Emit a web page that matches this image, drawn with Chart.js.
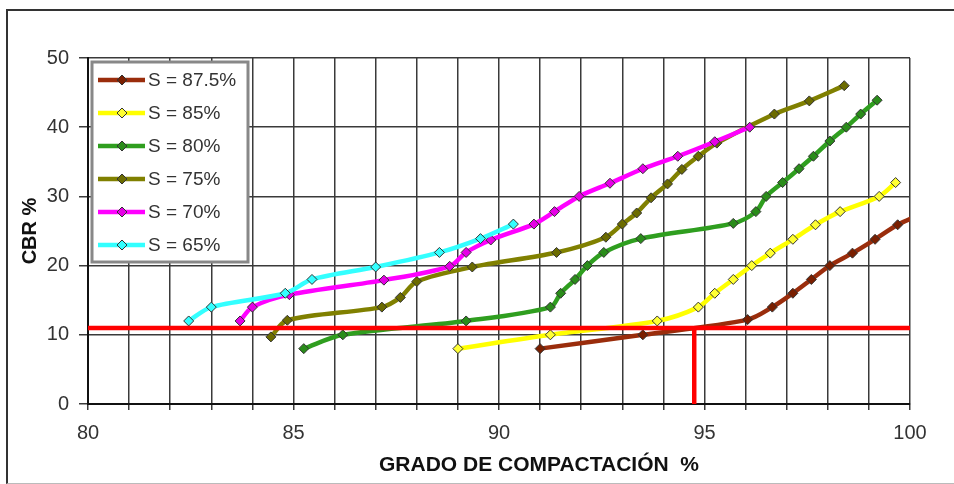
<!DOCTYPE html>
<html>
<head>
<meta charset="utf-8">
<script src="https://cdn.jsdelivr.net/npm/chart.js@4.4.1/dist/chart.umd.min.js"></script>
<style>
  html, body { margin: 0; padding: 0; background: #fff; overflow: hidden; }
  #wrap { position: relative; width: 954px; height: 484px; }
  #frame { position: absolute; left: 6px; top: 9px; width: 960px; height: 472px;
           border-left: 2px solid #333; border-top: 2px solid #333; border-bottom: 1px solid #bbb; }
  canvas { position: absolute; left: 0; top: 0; }
</style>
</head>
<body>
<div id="wrap">
  <div id="frame"></div>
  <canvas id="chart" width="954" height="484"></canvas>
</div>
<script>
// series names + colours
const seriesNames = ['S = 87.5%', 'S = 85%', 'S = 80%', 'S = 75%', 'S = 70%', 'S = 65%'];
const lineColors = ['#9a2d0c', '#ffff00', '#2f9e1f', '#808000', '#ff00ff', '#33ffff'];
const markColors = ['#7a1f00', '#ffff33', '#2a8c1a', '#6b6b00', '#e600e6', '#33ffff'];

// grado de compactacion (%) / CBR (%)
const s875x = [91.0, 93.5, 96.05, 96.65, 97.15, 97.6, 98.05, 98.6, 99.15, 99.7, 100.3];
const s875y = [8, 10, 12.2, 14, 16, 18, 20, 21.8, 23.8, 25.9, 27.5];
const s85x = [89.0, 91.25, 93.85, 94.85, 95.25, 95.7, 96.15, 96.6, 97.15, 97.7, 98.3, 99.25, 99.65];
const s85y = [8, 10, 12, 14, 16, 18, 20, 21.8, 23.8, 25.9, 27.8, 30, 32];
const s80x = [85.25, 86.2, 89.2, 91.25, 91.5, 91.85, 92.15, 92.55, 93.45, 95.7, 96.25, 96.5, 96.9, 97.3, 97.65, 98.05, 98.45, 98.8, 99.2];
const s80y = [8, 10, 12, 14, 16, 18, 20, 21.9, 23.9, 26.1, 27.8, 30, 32, 34, 35.8, 38, 40, 41.9, 43.9];
const s75x = [84.45, 84.85, 87.15, 87.6, 88.0, 89.35, 91.4, 92.6, 93.0, 93.35, 93.7, 94.1, 94.45, 94.85, 95.3, 96.7, 97.55, 98.4];
const s75y = [9.7, 12.1, 14, 15.4, 17.7, 19.8, 21.9, 24.1, 26, 27.6, 29.8, 31.8, 33.9, 35.8, 37.7, 41.9, 43.8, 46];
const s70x = [83.7, 84.0, 84.9, 87.2, 88.8, 89.2, 89.8, 90.85, 91.35, 91.95, 92.7, 93.5, 94.35, 95.25, 96.1];
const s70y = [12, 14, 15.8, 17.9, 19.9, 21.9, 23.7, 26, 27.8, 30, 31.9, 34, 35.8, 37.9, 40];
const s65x = [82.45, 83.0, 84.8, 85.45, 87.0, 88.55, 89.55, 90.35];
const s65y = [12, 14, 16, 18, 19.8, 21.9, 23.9, 26];

// red reference lines (CBR 11 -> 94.75 %)
const hLineX = [80, 100];
const hLineY = [11, 11];
const vLineX = [94.75, 94.75];
const vLineY = [0, 11];

const seriesX = [s875x, s85x, s80x, s75x, s70x, s65x];
const seriesY = [s875y, s85y, s80y, s75y, s70y, s65y];

const toPts = (xs, ys) => xs.map((x, i) => ({ x: x, y: ys[i] }));

const datasets = [
  { label: 'ref-h', data: toPts(hLineX, hLineY), borderColor: '#ff0000', borderWidth: 4.5,
    pointRadius: 0, showLine: true, order: 0, clip: 0 },
  { label: 'ref-v', data: toPts(vLineX, vLineY), borderColor: '#ff0000', borderWidth: 4.5,
    pointRadius: 0, showLine: true, order: 0, clip: 0 }
];
for (let i = 0; i < seriesNames.length; i++) {
  datasets.push({
    label: seriesNames[i],
    data: toPts(seriesX[i], seriesY[i]),
    showLine: true,
    borderColor: lineColors[i],
    borderWidth: 4.5,
    tension: 0.3,
    pointStyle: 'rectRot',
    pointRadius: 5,
    pointBackgroundColor: markColors[i],
    pointBorderColor: '#333',
    pointBorderWidth: 1,
    order: seriesNames.length - i,
    clip: 0
  });
}

const FONT = "'Liberation Sans', Arial, sans-serif";

// legend box inside the plot + x axis title (it sits off centre in the original)
const extras = {
  id: 'extras',
  afterDraw(chart) {
    const ctx = chart.ctx, a = chart.chartArea;
    ctx.save();
    const x0 = a.left + 4, y0 = a.top + 4, w = 156, h = 200;
    ctx.fillStyle = '#fff';
    ctx.fillRect(x0, y0, w, h);
    ctx.strokeStyle = '#888';
    ctx.lineWidth = 3;
    ctx.strokeRect(x0, y0, w, h);
    ctx.font = '19px ' + FONT;
    ctx.textBaseline = 'middle';
    for (let i = 0; i < seriesNames.length; i++) {
      const cy = y0 + 18 + i * 33;
      ctx.strokeStyle = lineColors[i];
      ctx.lineWidth = 4.5;
      ctx.beginPath();
      ctx.moveTo(x0 + 6, cy);
      ctx.lineTo(x0 + 53, cy);
      ctx.stroke();
      const mx = x0 + 30, r = 5;
      ctx.beginPath();
      ctx.moveTo(mx, cy - r); ctx.lineTo(mx + r, cy); ctx.lineTo(mx, cy + r); ctx.lineTo(mx - r, cy);
      ctx.closePath();
      ctx.fillStyle = markColors[i];
      ctx.fill();
      ctx.strokeStyle = '#333';
      ctx.lineWidth = 1;
      ctx.stroke();
      ctx.fillStyle = '#333';
      ctx.textAlign = 'left';
      ctx.fillText(seriesNames[i], x0 + 56, cy + 1);
    }
    ctx.font = 'bold 21px ' + FONT;
    ctx.fillStyle = '#111';
    ctx.textAlign = 'center';
    ctx.fillText('GRADO DE COMPACTACIÓN  %', (a.left + a.right) / 2 + 40, a.bottom + 61);
    ctx.restore();
  }
};

new Chart(document.getElementById('chart'), {
  type: 'scatter',
  data: { datasets: datasets },
  plugins: [extras],
  options: {
    responsive: false,
    animation: false,
    layout: { padding: { left: 0, top: 58, right: 44, bottom: 0 } },
    plugins: { legend: { display: false }, tooltip: { enabled: false } },
    scales: {
      x: {
        type: 'linear', min: 80, max: 100,
        afterFit: (s) => { s.height = 80; s.paddingLeft = 0; s.paddingRight = 0; },
        ticks: { stepSize: 1, autoSkip: false, maxRotation: 0, padding: 11, color: '#333',
                 font: { family: FONT, size: 20 },
                 callback: (v) => (v % 5 === 0 ? v : '') },
        grid: { color: '#3a3a3a', lineWidth: 1.5, tickLength: 6 },
        border: { color: '#111', width: 2 }
      },
      y: {
        type: 'linear', min: 0, max: 50,
        afterFit: (s) => { s.width = 88; s.paddingTop = 0; s.paddingBottom = 0; },
        ticks: { stepSize: 10, padding: 10, color: '#333', font: { family: FONT, size: 20 } },
        grid: { color: '#3a3a3a', lineWidth: 1.5, tickLength: 9 },
        border: { color: '#111', width: 2 },
        title: { display: true, text: 'CBR %', color: '#111',
                 font: { family: FONT, size: 20, weight: 'bold' }, padding: { top: 18, bottom: 0 } }
      }
    }
  }
});
</script>
</body>
</html>
